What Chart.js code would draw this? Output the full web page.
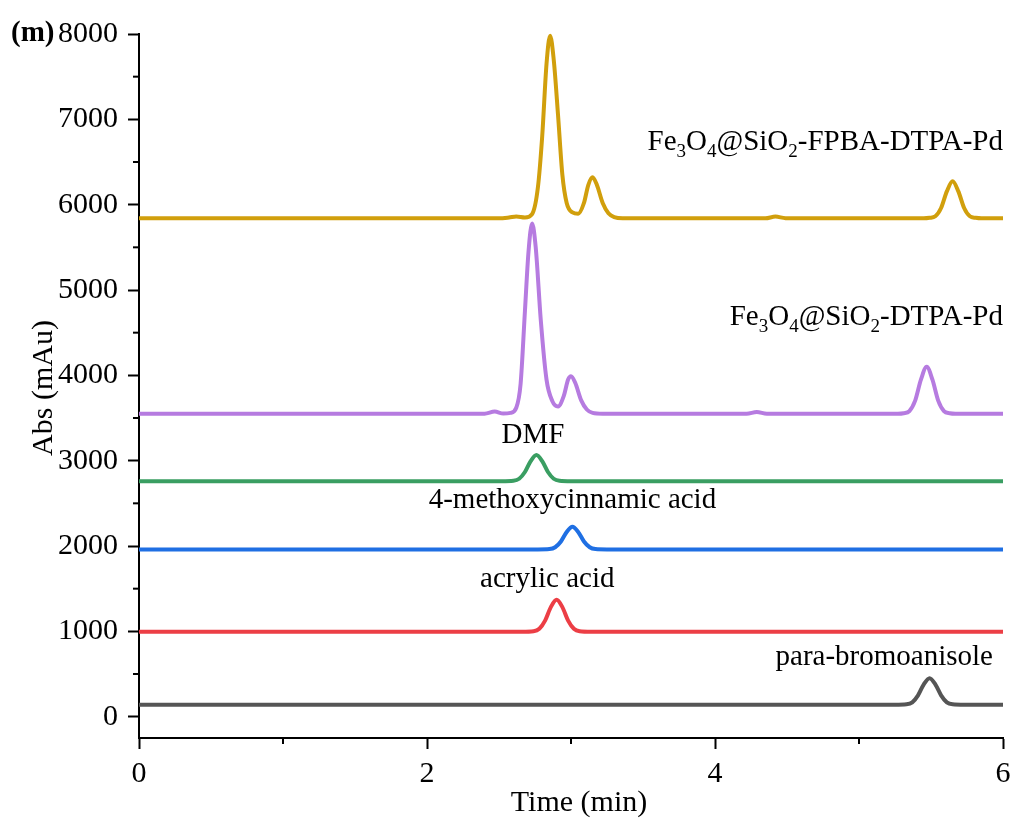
<!DOCTYPE html>
<html>
<head>
<meta charset="utf-8">
<script src="https://cdn.jsdelivr.net/npm/chart.js@4.4.0/dist/chart.umd.min.js"></script>
<style>
  html, body { margin: 0; background: #fff; }
  #wrap { width: 1012px; height: 818px; }
</style>
</head>
<body>
<div id="wrap"><canvas id="hplc"></canvas></div>
<script>
// Axis ticks
const xTicks = [0, 2, 4, 6];
const xMinor = [1, 3, 5];
const yTicks = [0, 1000, 2000, 3000, 4000, 5000, 6000, 7000, 8000];
const yMinor = [500, 1500, 2500, 3500, 4500, 5500, 6500, 7500];

// para-bromoanisole
const brTime = [0, 5.25, 5.33, 5.37, 5.41, 5.45, 5.49, 5.53, 5.57, 5.61, 5.65, 5.73, 6];
const brAbs  = [140, 140, 145, 168, 250, 379, 450, 379, 250, 168, 145, 140, 140];

// acrylic acid
const acTime = [0, 2.66, 2.74, 2.78, 2.82, 2.86, 2.90, 2.94, 2.98, 3.02, 3.06, 3.14, 6];
const acAbs  = [995, 995, 1001, 1030, 1126, 1284, 1370, 1284, 1126, 1030, 1001, 995, 995];

// 4-methoxycinnamic acid
const mcTime = [0, 2.77, 2.85, 2.89, 2.93, 2.97, 3.01, 3.05, 3.09, 3.13, 3.17, 3.25, 6];
const mcAbs  = [1960, 1960, 1964, 1985, 2053, 2164, 2225, 2164, 2053, 1985, 1964, 1960, 1960];

// DMF
const dmfTime = [0, 2.52, 2.60, 2.64, 2.68, 2.72, 2.76, 2.80, 2.84, 2.88, 2.92, 3.00, 6];
const dmfAbs  = [2760, 2760, 2765, 2788, 2867, 2995, 3065, 2995, 2867, 2788, 2765, 2760, 2760];

// Fe3O4@SiO2-DTPA-Pd
const pdTime = [0, 2.40, 2.47, 2.53, 2.58, 2.62, 2.65, 2.68, 2.705, 2.73, 2.755, 2.79, 2.83, 2.87, 2.91,
                2.95, 2.98, 3.00, 3.03, 3.07, 3.11, 3.15, 3.22, 4.22, 4.29, 4.36,
                5.27, 5.31, 5.35, 5.39, 5.43, 5.47, 5.51, 5.55, 5.59, 5.63, 5.67, 6];
const pdAbs  = [3550, 3550, 3575, 3552, 3560, 3620, 3900, 4750, 5450, 5780, 5500, 4650, 3950, 3700, 3635,
                3760, 3950, 3990, 3910, 3710, 3600, 3560, 3550, 3550, 3570, 3550,
                3550, 3556, 3581, 3703, 3949, 4100, 3949, 3703, 3581, 3556, 3550, 3550];

// Fe3O4@SiO2-FPBA-DTPA-Pd
const fpTime = [0, 2.50, 2.57, 2.62, 2.68, 2.73, 2.77, 2.80, 2.83, 2.855, 2.88, 2.91, 2.94, 2.97, 3.01,
                3.05, 3.09, 3.12, 3.15, 3.18, 3.22, 3.26, 3.30, 3.36, 4.35, 4.42, 4.49,
                5.45, 5.49, 5.53, 5.57, 5.61, 5.65, 5.69, 5.73, 5.77, 5.81, 5.85, 6];
const fpAbs  = [5840, 5840, 5850, 5862, 5850, 5890, 6200, 6800, 7650, 7980, 7700, 7050, 6350, 6020, 5910,
                5895, 6020, 6230, 6320, 6230, 6020, 5900, 5855, 5842, 5840, 5860, 5842,
                5840, 5846, 5864, 5961, 6156, 6275, 6156, 5961, 5864, 5846, 5840, 5840];

const FONT = "'Liberation Serif', 'Times New Roman', serif";
Chart.defaults.font.family = FONT;
Chart.defaults.color = '#000';

function pts(t, v) {
    return t.map((x, i) => ({ x: x, y: v[i] }));
}

function series(t, v, color) {
    return {
        data: pts(t, v),
        borderColor: color,
        borderWidth: 4,
        pointRadius: 0,
        cubicInterpolationMode: 'monotone',
        fill: false,
        clip: 10
    };
}

// labels: parts are [text, isSubscript]
const peakLabels = [
    { parts: [['Fe', 0], ['3', 1], ['O', 0], ['4', 1], ['@SiO', 0], ['2', 1], ['-FPBA-DTPA-Pd', 0]], x: 6.0, y: 6641, align: 'right' },
    { parts: [['Fe', 0], ['3', 1], ['O', 0], ['4', 1], ['@SiO', 0], ['2', 1], ['-DTPA-Pd', 0]], x: 6.0, y: 4590, align: 'right' },
    { parts: [['DMF', 0]], x: 2.736, y: 3207, align: 'center' },
    { parts: [['4-methoxycinnamic acid', 0]], x: 3.01, y: 2444, align: 'center' },
    { parts: [['acrylic acid', 0]], x: 2.835, y: 1519, align: 'center' },
    { parts: [['para-bromoanisole', 0]], x: 5.93, y: 605, align: 'right' }
];

const extras = {
    id: 'extras',
    afterDraw(chart) {
        const { ctx, chartArea, scales: { x, y } } = chart;
        ctx.save();
        ctx.strokeStyle = '#000';
        ctx.lineWidth = 2;
        // minor ticks
        xMinor.forEach(v => {
            const px = x.getPixelForValue(v);
            ctx.beginPath();
            ctx.moveTo(px, chartArea.bottom);
            ctx.lineTo(px, chartArea.bottom + 6);
            ctx.stroke();
        });
        yMinor.forEach(v => {
            const py = y.getPixelForValue(v);
            ctx.beginPath();
            ctx.moveTo(chartArea.left, py);
            ctx.lineTo(chartArea.left - 6, py);
            ctx.stroke();
        });

        // peak labels
        const big = 29, small = 19;
        ctx.fillStyle = '#000';
        ctx.textBaseline = 'alphabetic';
        ctx.textAlign = 'left';
        peakLabels.forEach(lab => {
            let w = 0;
            lab.parts.forEach(([s, sub]) => {
                ctx.font = (sub ? small : big) + 'px ' + FONT;
                w += ctx.measureText(s).width;
            });
            let px = x.getPixelForValue(lab.x);
            const py = y.getPixelForValue(lab.y);
            if (lab.align === 'right') px -= w;
            else if (lab.align === 'center') px -= w / 2;
            lab.parts.forEach(([s, sub]) => {
                ctx.font = (sub ? small : big) + 'px ' + FONT;
                ctx.fillText(s, px, sub ? py + 7 : py);
                px += ctx.measureText(s).width;
            });
        });

        // axis titles
        ctx.font = '30px ' + FONT;
        ctx.textAlign = 'center';
        ctx.textBaseline = 'alphabetic';
        ctx.fillText('Time (min)', 579, 811);
        ctx.save();
        ctx.translate(52, 388);
        ctx.rotate(-Math.PI / 2);
        ctx.fillText('Abs (mAu)', 0, 0);
        ctx.restore();

        // panel letter
        ctx.font = 'bold 29px ' + FONT;
        ctx.textAlign = 'left';
        ctx.textBaseline = 'middle';
        ctx.fillText('(m)', 11, y.getPixelForValue(8000));
        ctx.restore();
    }
};

new Chart(document.getElementById('hplc'), {
    type: 'line',
    data: {
        datasets: [
            series(brTime, brAbs, '#555555'),
            series(acTime, acAbs, '#ec3e45'),
            series(mcTime, mcAbs, '#1f6fe3'),
            series(dmfTime, dmfAbs, '#3a9e62'),
            series(pdTime, pdAbs, '#b67be0'),
            series(fpTime, fpAbs, '#d19f0c')
        ]
    },
    options: {
        responsive: true,
        maintainAspectRatio: false,
        animation: false,
        layout: { padding: { top: 34, right: 9, left: 0, bottom: 0 } },
        plugins: {
            legend: { display: false },
            tooltip: { enabled: false }
        },
        scales: {
            x: {
                type: 'linear',
                min: 0,
                max: 6,
                afterBuildTicks: s => { s.ticks = xTicks.map(v => ({ value: v })); },
                afterFit: s => { s.height = 80; s.paddingLeft = 0; s.paddingRight = 0; },
                grid: { drawOnChartArea: false, drawTicks: true, tickLength: 11, tickColor: '#000', tickWidth: 2 },
                border: { display: true, color: '#000', width: 2 },
                ticks: { font: { size: 30 }, padding: 7, color: '#000', maxRotation: 0, callback: v => String(v) },
                title: { display: false }
            },
            y: {
                min: -250,
                max: 8000,
                afterBuildTicks: s => { s.ticks = yTicks.map(v => ({ value: v })); },
                afterFit: s => { s.width = 139; s.paddingTop = 0; s.paddingBottom = 0; },
                grid: { drawOnChartArea: false, drawTicks: true, tickLength: 11, tickColor: '#000', tickWidth: 2 },
                border: { display: true, color: '#000', width: 2 },
                ticks: { font: { size: 30 }, padding: 10, color: '#000', callback: v => String(v) },
                title: { display: false }
            }
        }
    },
    plugins: [extras]
});
</script>
</body>
</html>
